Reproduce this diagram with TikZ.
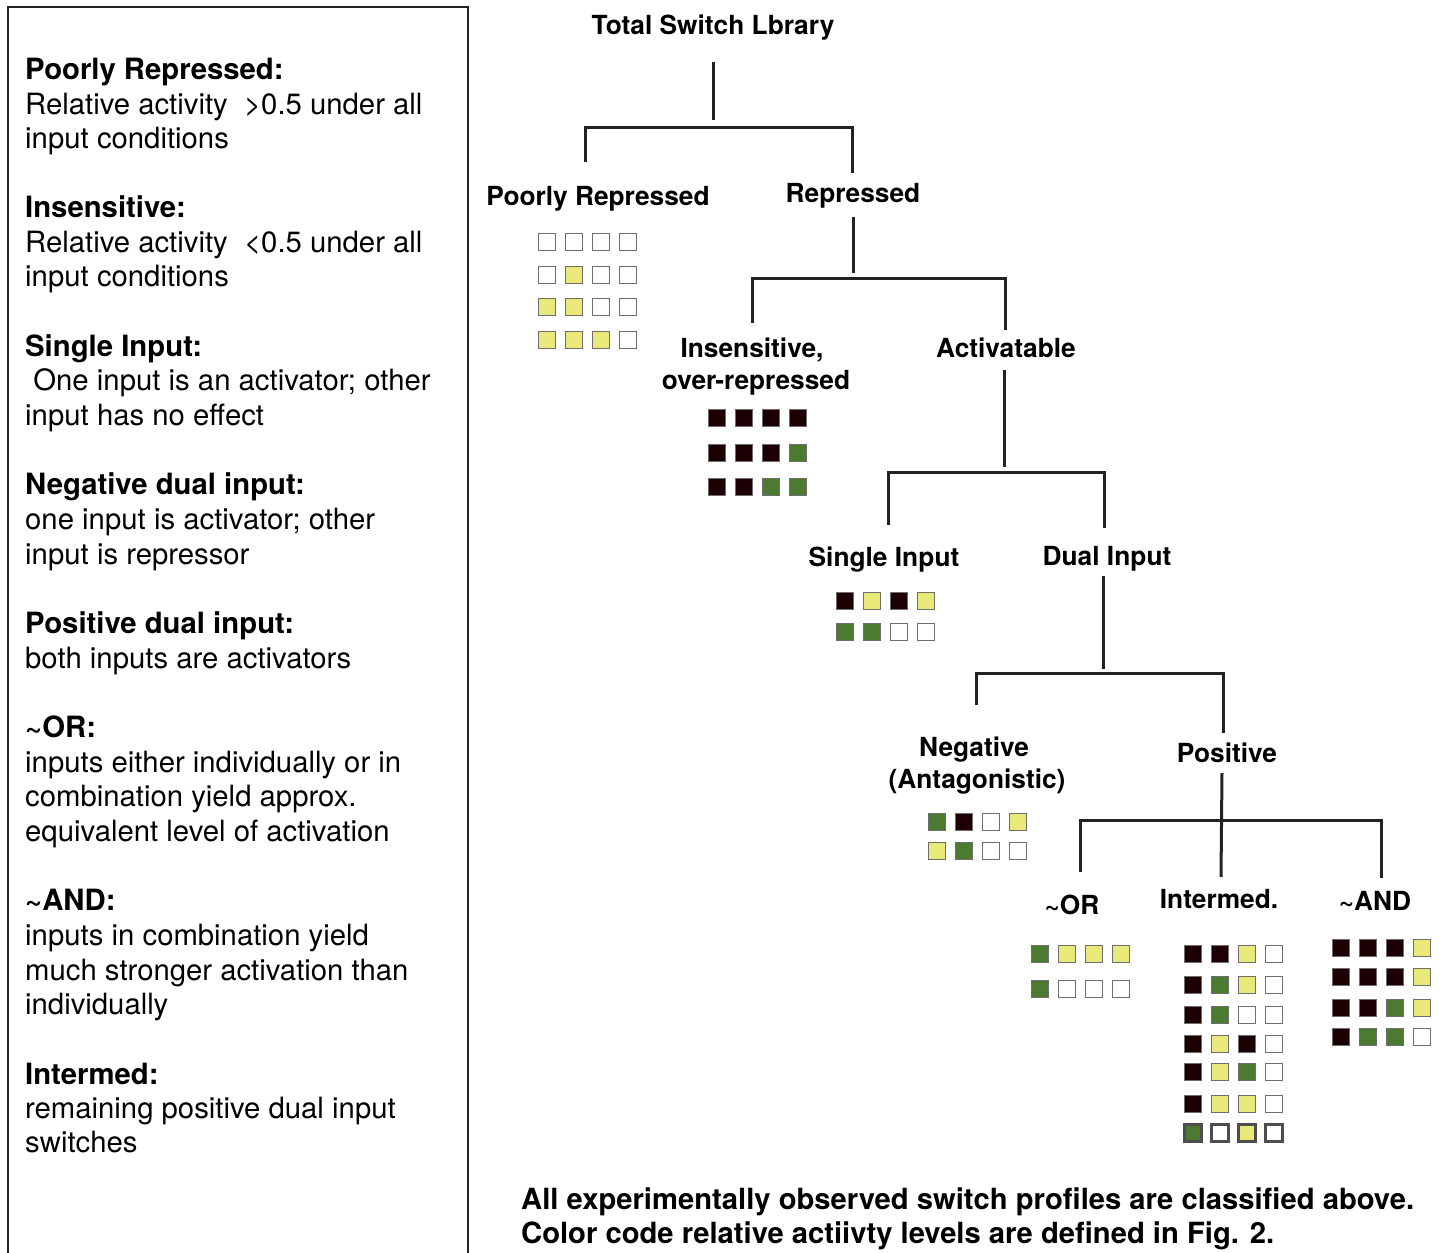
\documentclass[tikz,border=0pt]{standalone}
\usepackage{fontspec}
\setmainfont{TeX Gyre Heros}
\definecolor{sqK}{HTML}{1C0004}
\definecolor{sqY}{HTML}{E9E97A}
\definecolor{sqG}{HTML}{4C7A31}
\definecolor{sqW}{HTML}{FFFFFF}
\definecolor{sqB}{HTML}{6E6E6E}
\definecolor{ln}{HTML}{222222}
\tikzset{
  sq/.style={draw=sqB, line width=1.6pt, minimum size=17pt, inner sep=0pt},
  sqthick/.style={sq, draw=sqB!70!black, line width=2.6pt},
  bline/.style={draw=ln, line width=3pt},
  lefttxt/.style={anchor=base west, inner sep=0pt, font=\fontsize{29.3}{34.6}\selectfont},
  lefthead/.style={lefttxt, font=\fontsize{29.3}{34.6}\selectfont\bfseries},
  lab/.style={anchor=base, inner sep=0pt, font=\fontsize{26.3}{31}\selectfont\bfseries},
  foot/.style={anchor=base west, inner sep=0pt, font=\fontsize{29.2}{34}\selectfont\bfseries},
}
\newcommand\gridrow[5][sq]{%
  \foreach \c [count=\i] in {#5} {
    \node[#1, fill=\c] (#2-\i) at ({#3+(\i-1)*27},#4) {};
  }%
}
\begin{document}
\begin{tikzpicture}[x=1pt,y=-1pt]
\useasboundingbox (0,0) rectangle (1444,1253);
% left box
\draw[draw=ln, line width=2.5pt] (8,1260) -- (8,7) -- (468,7) -- (468,1260);
% left text
\foreach \t/\y/\s [count=\k] in {
  {Poorly Repressed:}/79/lefthead,
  {Relative activity \ >0.5 under all}/114/lefttxt,
  {input conditions}/148/lefttxt,
  {Insensitive:}/217/lefthead,
  {Relative activity \ <0.5 under all}/252/lefttxt,
  {input conditions}/286/lefttxt,
  {Single Input:}/356/lefthead,
  {\ One input is an activator; other}/390/lefttxt,
  {input has no effect}/425/lefttxt,
  {Negative dual input:}/494/lefthead,
  {one input is activator; other}/529/lefttxt,
  {input is repressor}/564/lefttxt,
  {Positive dual input:}/633/lefthead,
  {both inputs are activators}/668/lefttxt,
  {\textasciitilde OR:}/737/lefthead,
  {inputs either individually or in}/772/lefttxt,
  {combination yield approx.}/806/lefttxt,
  {equivalent level of activation}/841/lefttxt,
  {\textasciitilde AND:}/910/lefthead,
  {inputs in combination yield}/945/lefttxt,
  {much stronger activation than}/980/lefttxt,
  {individually}/1014/lefttxt,
  {Intermed:}/1084/lefthead,
  {remaining positive dual input}/1118/lefttxt,
  {switches}/1152/lefttxt} {
  \node[\s] (L\k) at (25,\y) {\t};
}
% tree labels
\node[lab] (total) at (713,34) {Total Switch Lbrary};
\node[lab] (poor) at (598,205) {Poorly Repressed};
\node[lab] (rep) at (853,202) {Repressed};
\node[lab] (ins1) at (752,357) {Insensitive,};
\node[lab] (ins2) at (756,389) {over-repressed};
\node[lab] (act) at (1006,357) {Activatable};
\node[lab] (single) at (884,566) {Single Input};
\node[lab] (dual) at (1107,565) {Dual Input};
\node[lab] (neg1) at (974,756) {Negative};
\node[lab] (neg2) at (977,788) {(Antagonistic)};
\node[lab] (pos) at (1227,762) {Positive};
\node[lab] (or) at (1072,914) {\textasciitilde OR};
\node[lab] (inter) at (1219,908) {Intermed.};
\node[lab] (and) at (1375,910) {\textasciitilde AND};
% tree connectors
\coordinate (a0) at (713,62);  \coordinate (a1) at (713,120);
\coordinate (a2) at (585,162); \coordinate (a3) at (585,127);
\coordinate (a4) at (852,127); \coordinate (a5) at (852,173);
\draw[bline] (a0) -- (a1);
\draw[bline] (a2) -- (a3) -- (a4) -- (a5);
\coordinate (b0) at (853,217); \coordinate (b1) at (853,273);
\coordinate (b2) at (752,323); \coordinate (b3) at (752,278);
\coordinate (b4) at (1005,278); \coordinate (b5) at (1005,330);
\draw[bline] (b0) -- (b1);
\draw[bline] (b2) -- (b3) -- (b4) -- (b5);
\coordinate (c0) at (1004,370); \coordinate (c1) at (1004,467);
\coordinate (c2) at (888,525); \coordinate (c3) at (888,472);
\coordinate (c4) at (1104,472); \coordinate (c5) at (1104,528);
\draw[bline] (c0) -- (c1);
\draw[bline] (c2) -- (c3) -- (c4) -- (c5);
\coordinate (d0) at (1103,576); \coordinate (d1) at (1103,669);
\coordinate (d2) at (976,705); \coordinate (d3) at (976,673);
\coordinate (d4) at (1223,673); \coordinate (d5) at (1223,733);
\draw[bline] (d0) -- (d1);
\draw[bline] (d2) -- (d3) -- (d4) -- (d5);
\coordinate (e0) at (1222,773); \coordinate (e1) at (1221,877);
\coordinate (e2) at (1080,872); \coordinate (e3) at (1080,820);
\coordinate (e4) at (1381,820); \coordinate (e5) at (1381,878);
\draw[bline] (e0) -- (e1);
\draw[bline] (e2) -- (e3) -- (e4) -- (e5);
% grids
\gridrow{pr1}{547}{242}{sqW,sqW,sqW,sqW}
\gridrow{pr2}{547}{275}{sqW,sqY,sqW,sqW}
\gridrow{pr3}{547}{307}{sqY,sqY,sqW,sqW}
\gridrow{pr4}{547}{340}{sqY,sqY,sqY,sqW}
\gridrow{in1}{717}{418}{sqK,sqK,sqK,sqK}
\gridrow{in2}{717}{453}{sqK,sqK,sqK,sqG}
\gridrow{in3}{717}{487}{sqK,sqK,sqG,sqG}
\gridrow{si1}{845}{601}{sqK,sqY,sqK,sqY}
\gridrow{si2}{845}{632}{sqG,sqG,sqW,sqW}
\gridrow{ng1}{937}{822}{sqG,sqK,sqW,sqY}
\gridrow{ng2}{937}{851}{sqY,sqG,sqW,sqW}
\gridrow{or1}{1040}{954}{sqG,sqY,sqY,sqY}
\gridrow{or2}{1040}{989}{sqG,sqW,sqW,sqW}
\gridrow{im1}{1193}{954}{sqK,sqK,sqY,sqW}
\gridrow{im2}{1193}{985}{sqK,sqG,sqY,sqW}
\gridrow{im3}{1193}{1015}{sqK,sqG,sqW,sqW}
\gridrow{im4}{1193}{1044}{sqK,sqY,sqK,sqW}
\gridrow{im5}{1193}{1072}{sqK,sqY,sqG,sqW}
\gridrow{im6}{1193}{1104}{sqK,sqY,sqY,sqW}
\gridrow[sqthick]{im7}{1193}{1133}{sqG,sqW,sqY,sqW}
\gridrow{an1}{1341}{948}{sqK,sqK,sqK,sqY}
\gridrow{an2}{1341}{977}{sqK,sqK,sqK,sqY}
\gridrow{an3}{1341}{1008}{sqK,sqK,sqG,sqY}
\gridrow{an4}{1341}{1037}{sqK,sqG,sqG,sqW}
% footer
\node[foot] (f1) at (521,1209) {All experimentally observed switch profiles are classified above.};
\node[foot] (f2) at (521,1243) {Color code relative actiivty levels are defined in Fig. 2.};
\end{tikzpicture}
\end{document}
